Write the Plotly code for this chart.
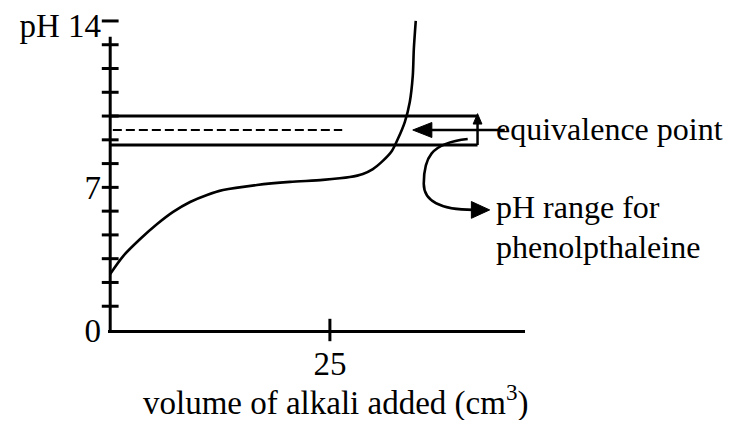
import plotly.graph_objects as go

# ---- data ----
volume_cm3 = [0.0, 1.48, 3.41, 5.34, 7.16, 9.09, 11.02, 12.84, 16.70, 20.45, 24.20,
              27.27, 28.75, 29.89, 31.02, 32.05, 32.73, 33.52, 34.09, 34.43, 34.55, 34.77]
ph_values = [2.54, 3.35, 4.12, 4.80, 5.35, 5.80, 6.12, 6.34, 6.57, 6.71, 6.80,
             6.93, 7.07, 7.29, 7.66, 8.11, 8.65, 9.42, 10.33, 11.51, 12.73, 14.0]

phenol_low = 8.38       # lower limit of phenolphthalein range
phenol_high = 9.70      # upper limit of phenolphthalein range
equivalence_ph = 9.06   # dashed line
range_x = [0.0, 41.8]   # extent of range box
equiv_x = [0.3, 26.4]   # extent of dashed line

y_tick_vals = [0, 6.46, 13.8]
y_tick_text = ["0", "7", "pH 14"]
y_minor_ticks = [k * 14 / 13 for k in range(1, 14)]
x_tick_vals = [25]
x_tick_text = ["25"]
x_title = "volume of alkali added (cm<sup>3</sup>)"

FONT = "Liberation Serif"
FS = 33
FS_NOTE = 32

fig = go.Figure()

# titration curve
fig.add_trace(go.Scatter(x=volume_cm3, y=ph_values, mode="lines",
                         line=dict(color="black", width=2.6, shape="spline", smoothing=0.8),
                         hoverinfo="skip"))
# phenolphthalein range lines
for v in (phenol_high, phenol_low):
    fig.add_trace(go.Scatter(x=range_x, y=[v, v], mode="lines",
                             line=dict(color="black", width=3), hoverinfo="skip"))
# equivalence dashed line
fig.add_trace(go.Scatter(x=equiv_x, y=[equivalence_ph] * 2, mode="lines",
                         line=dict(color="black", width=2.2, dash="9px,4px"), hoverinfo="skip"))
# crossing tick marks on the y axis
fig.add_trace(go.Scatter(x=[0] * len(y_minor_ticks), y=y_minor_ticks, mode="markers",
                         marker=dict(symbol="line-ew", size=12, line=dict(color="black", width=3)),
                         cliponaxis=False, hoverinfo="skip"))
# crossing tick mark on the x axis
fig.add_trace(go.Scatter(x=x_tick_vals, y=[0] * len(x_tick_vals), mode="markers",
                         marker=dict(symbol="line-ns", size=16, line=dict(color="black", width=3)),
                         cliponaxis=False, hoverinfo="skip"))

BLACK = dict(color="black", width=2.5)
shapes = [
    # y axis line
    dict(type="line", xref="x", yref="y", x0=0, x1=0, y0=0, y1=13.28,
         line=dict(color="black", width=3)),
    # pointer to the equivalence line
    dict(type="line", xref="x", yref="y", x0=36.2, x1=44.9,
         y0=equivalence_ph, y1=equivalence_ph, line=BLACK),
    dict(type="path", xref="x", yref="y", fillcolor="black", line=dict(color="black", width=1),
         path="M 34.43,9.06 L 36.6,9.40 L 36.6,8.72 Z"),
    # right edge of range box with upward arrow
    dict(type="line", xref="x", yref="y", x0=range_x[1], x1=range_x[1],
         y0=phenol_low, y1=9.40, line=BLACK),
    dict(type="path", xref="x", yref="y", fillcolor="black", line=dict(color="black", width=1),
         path="M 41.8,9.80 L 42.3,9.33 L 41.3,9.33 Z"),
    # curved pointer towards "pH range" label
    dict(type="path", xref="x", yref="y",
         path="M 40.68,8.65 C 36.36,8.47 35.68,7.75 35.68,6.62 C 35.68,5.71 38.07,5.44 41.3,5.44",
         line=dict(color="black", width=2.6)),
    dict(type="path", xref="x", yref="y", fillcolor="black", line=dict(color="black", width=1),
         path="M 43.18,5.44 L 41.1,5.82 L 41.1,5.06 Z"),
]

annotations = [
    dict(x=43.7, y=9.11, xref="x", yref="y", text="equivalence point", showarrow=False,
         xanchor="left", yanchor="middle", font=dict(family=FONT, size=FS_NOTE, color="black")),
    dict(x=43.7, y=5.55, xref="x", yref="y", text="pH range for", showarrow=False,
         xanchor="left", yanchor="middle", font=dict(family=FONT, size=FS_NOTE, color="black")),
    dict(x=43.7, y=3.75, xref="x", yref="y", text="phenolpthaleine", showarrow=False,
         xanchor="left", yanchor="middle", font=dict(family=FONT, size=FS_NOTE, color="black")),
    # x axis title
    dict(x=25.6, y=0, xref="x", yref="y", text=x_title, showarrow=False,
         xanchor="center", yanchor="middle", yshift=-70,
         font=dict(family=FONT, size=FS, color="black")),
]

# page body adds an 8px margin, so the figure is 8px smaller and shifted
fig.update_layout(
    width=729, height=412,
    margin=dict(l=100, r=212, t=7, b=90),
    paper_bgcolor="white", plot_bgcolor="white",
    showlegend=False,
    font=dict(family=FONT, size=FS, color="black"),
    shapes=shapes, annotations=annotations,
    xaxis=dict(range=[-0.25, 47.2], showgrid=False, zeroline=False,
               showline=True, linecolor="black", linewidth=3,
               tickvals=x_tick_vals, ticktext=x_tick_text, ticks="",
               ticklabelstandoff=2,
               tickfont=dict(family=FONT, size=FS, color="black"),
               automargin=False, fixedrange=True),
    yaxis=dict(range=[0, 14.27], showgrid=False, zeroline=False, showline=False,
               tickvals=y_tick_vals, ticktext=y_tick_text, ticks="",
               ticklabelstandoff=6, ticklabeloverflow="allow",
               tickfont=dict(family=FONT, size=FS, color="black"),
               automargin=False, fixedrange=True),
)

fig.write_html("out.html")
